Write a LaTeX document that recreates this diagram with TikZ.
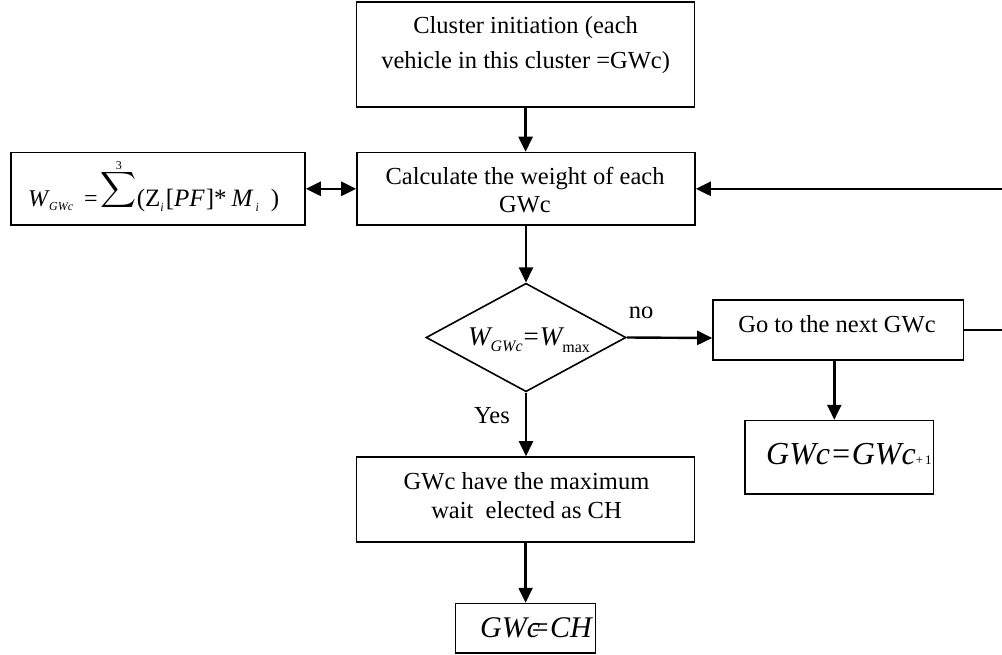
\documentclass[tikz,border=0pt]{standalone}
\usepackage{fontspec}
\setmainfont{Liberation Serif}
\usepackage{graphicx}
\usetikzlibrary{arrows.meta,shapes.geometric}

% lowered small text for subscripts: size, drop, text
\newcommand\lowtxt[3]{\raisebox{-#2}{\fontsize{#1}{#1}\selectfont #3}}

\begin{document}
\begin{tikzpicture}[x=1pt,y=-1pt,
  box/.style={draw, rectangle, line width=1.6pt, inner sep=0pt},
  decision/.style={draw, diamond, line width=1.6pt, inner sep=0pt},
  txt/.style={inner sep=0pt, align=center, font=\fontsize{24.5}{28}\selectfont},
  eqn/.style={inner sep=0pt, anchor=base west},
  flow/.style={line width=2.4pt, -{Triangle[length=15pt,width=14pt]}},
  both/.style={line width=2.4pt, {Triangle[length=15pt,width=14pt]}-{Triangle[length=15pt,width=14pt]}}
]
\useasboundingbox (0,0) rectangle (1002,655);

% boxes
\node[box, minimum width=338pt, minimum height=105pt] (init) at (525.6,54.5) {};
\node[box, minimum width=338pt, minimum height=72.5pt] (calc) at (526,188.8) {};
\node[box, minimum width=294pt, minimum height=72.5pt] (wsum) at (158,188.8) {};
\node[decision, minimum width=200pt, minimum height=108.5pt] (dec) at (526,337.5) {};
\node[box, minimum width=250.6pt, minimum height=60pt] (go) at (838.3,330) {};
\node[box, minimum width=188.5pt, minimum height=73.4pt] (next) at (839.2,457.3) {};
\node[box, minimum width=338pt, minimum height=85pt] (elect) at (525.6,499.5) {};
\node[box, minimum width=140pt, minimum height=49.5pt] (final) at (525.6,628.3) {};

% texts
\node[txt, anchor=north, font=\fontsize{24.5}{35}\selectfont] (initlbl) at (525.6,16)
  {Cluster initiation (each\\vehicle in this cluster =GWc)};
\node[txt, anchor=north] (calclbl) at (525,167) {Calculate the weight of each\\GWc};
\node[txt, anchor=north, font=\fontsize{24.5}{29}\selectfont] (electlbl) at (526.5,472)
  {GWc have the maximum\\wait\ \ elected as CH};
\node[txt, anchor=base] (golbl) at (837,333) {Go to the next GWc};
\node[txt, anchor=base] (nolbl) at (641,319) {no};
\node[txt, anchor=base] (yeslbl) at (492,423) {Yes};

\node[eqn] (wsumlbl) at (28,207) {%
  {\fontsize{24}{24}\selectfont\itshape W}\kern1pt\lowtxt{12}{4pt}{\itshape GWc}%
  \kern11pt{\fontsize{24}{24}\selectfont =}\kern3pt%
  \raisebox{10.5pt}{\scalebox{2.5}{$\displaystyle\sum$}}%
  \llap{\makebox[36pt]{\raisebox{37pt}{\fontsize{12}{12}\selectfont 3}}}%
  {\fontsize{25}{25}\selectfont(Z\lowtxt{12}{5pt}{\itshape i}\kern2pt[\textit{PF}\kern1pt]*\kern5pt\textit{M}\kern2pt\lowtxt{12}{5pt}{\itshape i}\kern12pt)}};
\node[eqn] (declbl) at (468,345) {%
  {\fontsize{27}{27}\selectfont\itshape W}\lowtxt{16}{6pt}{\itshape GWc}%
  {\fontsize{27}{27}\selectfont\kern1pt=\kern1pt\itshape W}\lowtxt{16}{7pt}{max}};
\node[eqn] (nextlbl) at (766,464) {%
  {\fontsize{32}{32}\selectfont\itshape GWc=GWc}{\fontsize{13}{13}\selectfont +\,1}};
\node[eqn] (finallbl) at (480,637) {%
  {\fontsize{30}{30}\selectfont\itshape GW\rlap{c}\kern3pt=CH}};

% connectors
\coordinate (loopout) at (1004,330);
\coordinate (loopin) at (1004,188.8);
\draw[flow] (init.south) -- (init.south |- calc.north);
\draw[both] (wsum.east) -- (calc.west);
\draw[flow] (calc.south) -- (calc.south |- dec.north);
\draw[flow] (dec.east) -- ([yshift=-8pt]go.west);
\draw[flow] (dec.south) -- (dec.south |- elect.north);
\draw[flow] (elect.south) -- (elect.south |- final.north);
\draw[flow] ([xshift=-4pt]go.south) -- ([xshift=-4pt]go.south |- next.north);
\draw[flow] (go.east) -- (loopout) -- (loopin) -- (calc.east);
\end{tikzpicture}
\end{document}
